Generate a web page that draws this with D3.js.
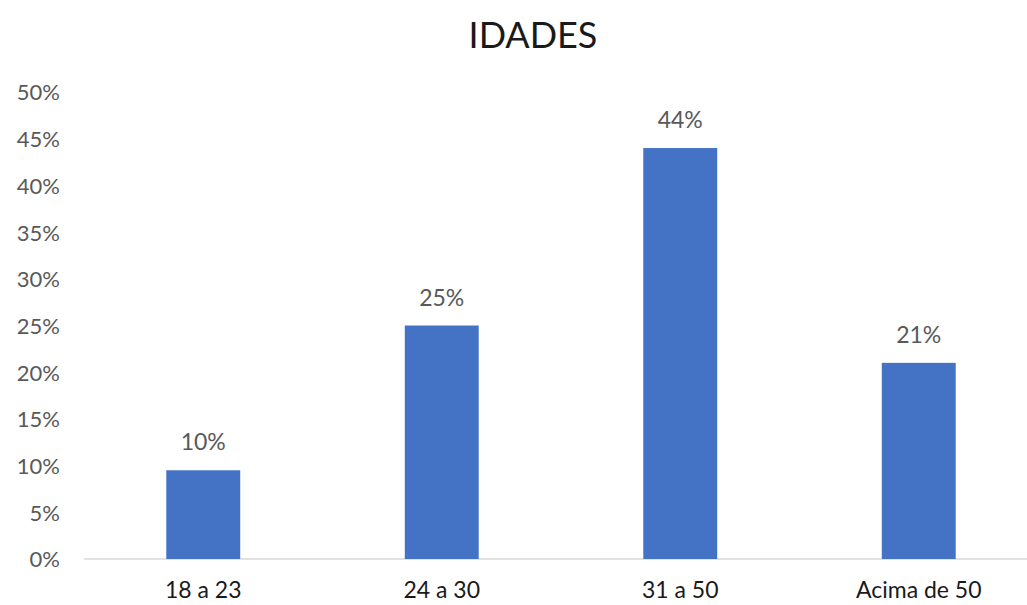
<!DOCTYPE html>
<html>
<head>
<meta charset="utf-8">
<script src="https://cdn.jsdelivr.net/npm/d3@7"></script>
<style>
  body { margin: 0; background: #fff; }
  text { font-family: Lato, "Open Sans", sans-serif; }
</style>
</head>
<body>
<div id="container"></div>
<script>
// chart data
var categories = ["18 a 23", "24 a 30", "31 a 50", "Acima de 50"];
var values = [0.095, 0.25, 0.44, 0.21];
var yTicks = [0, 0.05, 0.1, 0.15, 0.2, 0.25, 0.3, 0.35, 0.4, 0.45, 0.5];
var title = "IDADES";

var width = 1027,
  height = 605,
  baseY = 559,
  topY = 92;

var svg = d3.select("#container").append("svg")
  .attr("width", width)
  .attr("height", height);

var xScale = d3.scaleBand()
  .domain(categories)
  .range([84, 1038])
  .paddingInner(0.69)
  .paddingOuter(0.345);

var yScale = d3.scaleLinear().domain([0, 0.5]).range([baseY, topY]);

// title
svg.append("text")
  .attr("x", 533)
  .attr("y", 48)
  .attr("text-anchor", "middle")
  .style("font-size", "36px")
  .style("fill", "#1a1a1a")
  .text(title);

// y axis (labels only)
var yAxis = d3.axisLeft(yScale)
  .tickValues(yTicks)
  .tickFormat(d3.format(".0%"))
  .tickSize(0)
  .tickPadding(0);
var gY = svg.append("g").attr("transform", "translate(60,0)").call(yAxis);
gY.select("path.domain").remove();
gY.selectAll(".tick text")
  .style("font-size", "22px")
  .style("fill", "#595959")
  .style("font-family", "Lato, 'Open Sans', sans-serif")
  .attr("dy", "0.36em");

// baseline
svg.append("line")
  .attr("x1", 84).attr("x2", width)
  .attr("y1", baseY).attr("y2", baseY)
  .style("stroke", "#d9d9d9")
  .style("stroke-width", 1.5);

// bars
svg.selectAll("rect.bar")
  .data(values)
  .enter()
  .append("rect")
  .attr("class", "bar")
  .attr("x", (d, i) => xScale(categories[i]))
  .attr("width", xScale.bandwidth())
  .attr("y", (d) => yScale(d))
  .attr("height", (d) => baseY - yScale(d))
  .style("fill", "#4472c4");

// data labels
svg.selectAll("text.value")
  .data(values)
  .enter()
  .append("text")
  .attr("class", "value")
  .attr("x", (d, i) => xScale(categories[i]) + xScale.bandwidth() / 2)
  .attr("y", (d) => yScale(d) - 20)
  .attr("text-anchor", "middle")
  .style("font-size", "23px")
  .style("fill", "#595959")
  .text(d3.format(".0%"));

// x axis labels
var xAxis = d3.axisBottom(xScale).tickSize(0).tickPadding(0);
var gX = svg.append("g").attr("transform", "translate(0,598)").call(xAxis);
gX.select("path.domain").remove();
gX.selectAll(".tick text")
  .attr("dy", 0)
  .style("font-size", "23px")
  .style("fill", "#1a1a1a")
  .style("font-family", "Lato, 'Open Sans', sans-serif");
</script>
</body>
</html>
